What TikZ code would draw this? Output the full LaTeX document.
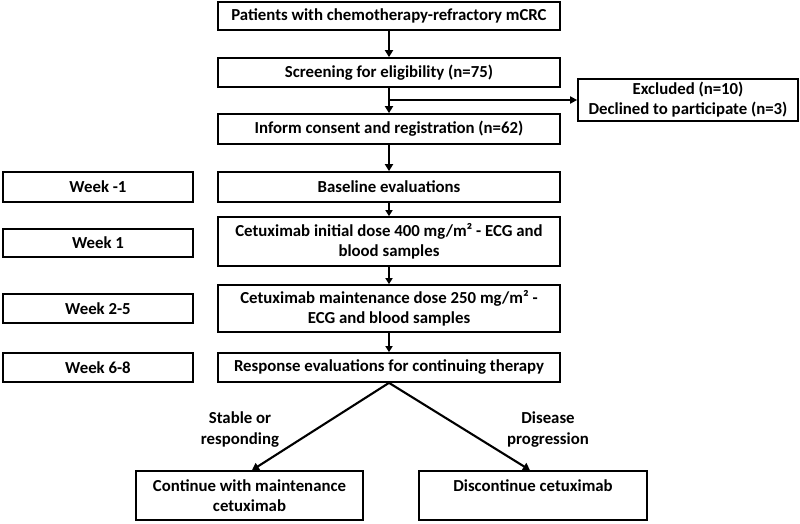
\documentclass[tikz,border=0pt]{standalone}
\usepackage{fontspec}
\setmainfont{Carlito}
\usetikzlibrary{arrows.meta}
\tikzset{
  box/.style={draw, line width=1.7pt, align=center, inner sep=2pt, font=\bfseries\fontsize{16.8}{20}\selectfont},
  mainBox/.style={box, minimum width=342pt},
  weekBox/.style={box, minimum width=190pt},
  endBox/.style={box, minimum width=228pt, minimum height=49pt},
  label/.style={align=center, font=\bfseries\fontsize{16.8}{21}\selectfont},
  bigArrow/.style={line width=2.6pt, -{Triangle[length=7pt,width=8pt]}},
  smallArrow/.style={line width=1.8pt, -{Triangle[length=6pt,width=7pt]}}
}
\begin{document}
\begin{tikzpicture}[x=1pt,y=-1pt]
            % Define the page
            \useasboundingbox (0,0) rectangle (800,524);

            % Draw the main column
            \node[mainBox, minimum height=28pt] (patients) at (389,16) {Patients with chemotherapy-refractory mCRC};
            \node[mainBox, minimum height=29pt] (screening) at (389,72.5) {Screening for eligibility (n=75)};
            \node[mainBox, minimum height=30pt] (consent) at (389,129) {Inform consent and registration (n=62)};
            \node[mainBox, minimum height=30pt] (baseline) at (389,187) {Baseline evaluations};
            \node[mainBox, minimum height=49pt] (initial) at (389,241.5) {Cetuximab initial dose 400 mg/m² - ECG and\\blood samples};
            \node[mainBox, minimum height=47pt] (maintenance) at (389,308.5) {Cetuximab maintenance dose 250 mg/m² -\\ECG and blood samples};
            \node[mainBox, minimum height=29pt] (response) at (389,367.5) {Response evaluations for continuing therapy};

            % Draw the excluded box
            \node[box, minimum width=220pt, minimum height=42pt] (excluded) at (688,100) {Excluded (n=10)\\Declined to participate (n=3)};

            % Draw the week boxes
            \node[weekBox, minimum height=30pt] (weekA) at (98,187) {Week -1};
            \node[weekBox, minimum height=28pt] (weekB) at (98,243) {Week 1};
            \node[weekBox, minimum height=29pt] (weekC) at (98,308.5) {Week 2-5};
            \node[weekBox, minimum height=29pt] (weekD) at (98,367.5) {Week 6-8};

            % Draw the outcome boxes
            \node[endBox, minimum width=227pt] (continue) at (249.5,495.5) {Continue with maintenance\\cetuximab};
            \node[endBox] (discontinue) at (533,495.5) {Discontinue cetuximab\\~};
            \node[label] (stable) at (240,430) {Stable or\\responding};
            \node[label] (progression) at (548,430) {Disease\\progression};

            % Draw the arrows
            \coordinate (split) at (389,100);
            \draw[bigArrow] (patients) -- (screening);
            \draw[bigArrow] (screening) -- (consent);
            \draw[bigArrow] (consent) -- (baseline);
            \draw[line width=1.8pt, -{Triangle[length=7pt,width=7pt]}] (split) -- (excluded);
            \draw[smallArrow] (baseline) -- (initial);
            \draw[smallArrow] (initial) -- (maintenance);
            \draw[smallArrow] (maintenance) -- (response);
            \draw[bigArrow, line width=2.1pt] (response.south) -- ([xshift=2.5pt]continue.north);
            \draw[bigArrow, line width=2.1pt] (response.south) -- ([xshift=-3pt]discontinue.north);
        \end{tikzpicture}
\end{document}
